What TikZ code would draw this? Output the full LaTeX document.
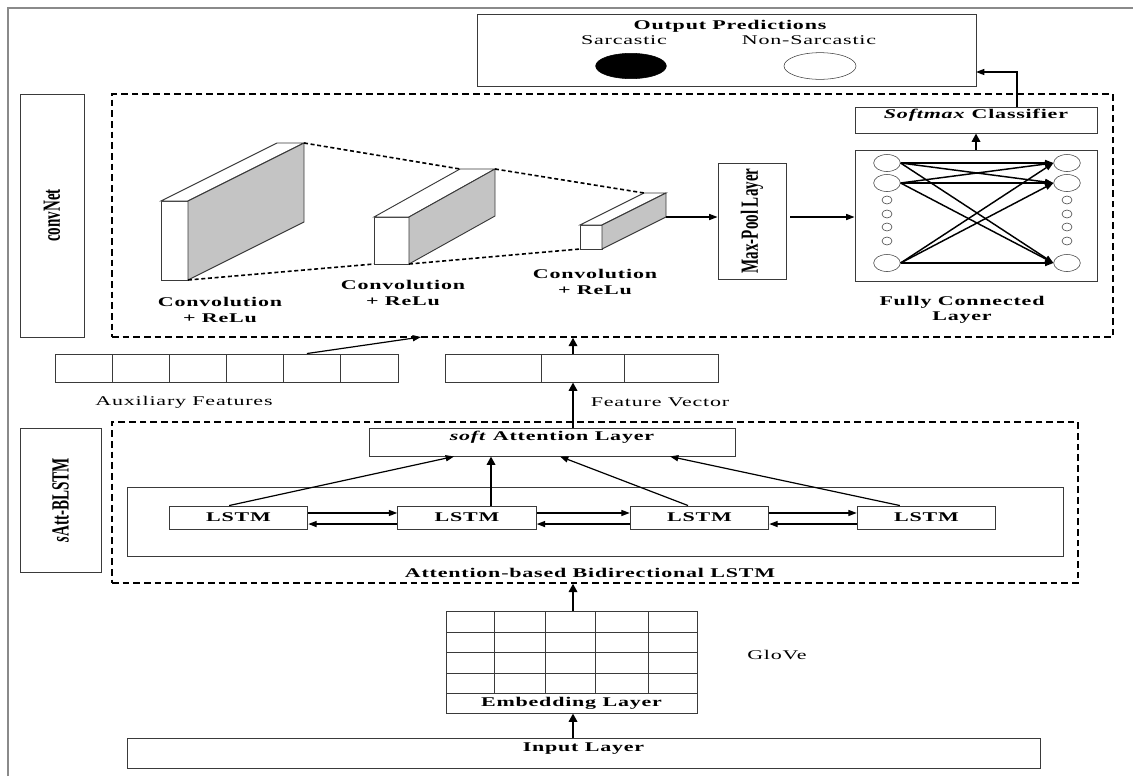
\documentclass[tikz,border=0pt]{standalone}
\usepackage{fontspec}
\setmainfont{Liberation Serif}[FakeStretch=1.65,LetterSpace=6]
\newfontfamily\tallfont{Liberation Serif}[FakeStretch=0.61]
\usepackage{xcolor}
\definecolor{sarcline}{HTML}{3A3A3A}
\definecolor{sarcframe}{HTML}{8A8A8A}
\definecolor{sarcshade}{HTML}{C4C4C4}
\usepackage{tikz}
\usetikzlibrary{arrows.meta,positioning,shapes.geometric,fit,calc}
\tikzset{
  sarcbox/.style={draw=sarcline,line width=0.7pt,inner sep=0pt,fit={#1}},
  sarcgroup/.style={draw,dash pattern=on 5pt off 3pt,line width=1pt,inner sep=0pt,fit={#1}},
  sarctitle/.style={font=\bfseries\fontsize{10}{11.5}\selectfont,inner sep=1pt,align=center},
  sarcnote/.style={font=\fontsize{10}{12}\selectfont,inner sep=1pt},
  sarcside/.style={font=\tallfont\bfseries\fontsize{18.5}{18.5}\selectfont,rotate=90,inner sep=0pt},
  sarcflow/.style={-{Triangle[length=2.2mm,width=1.6mm]},line width=0.9pt},
  sarcbold/.style={-{Triangle[length=2.2mm,width=2.2mm]},line width=2pt},
  sarccell/.style={draw=sarcline,line width=0.7pt,minimum width=42.9pt,minimum height=21pt,inner sep=0pt},
  sarclstm/.style={draw=sarcline,line width=0.7pt,minimum width=104pt,minimum height=17.25pt,inner sep=0pt,font=\bfseries},
  sarcbig/.style={draw=sarcline,ellipse,inner sep=0pt,minimum width=20pt,minimum height=12.75pt},
  sarcsmall/.style={draw=sarcline,ellipse,inner sep=0pt,minimum width=7.5pt,minimum height=6pt},
  sarcdots/.style={densely dashed,line width=1.2pt},
}
\begin{document}
\begin{tikzpicture}[x=0.75pt,y=-0.75pt]
\useasboundingbox (0,0) rectangle (1133,776);
\draw[sarcframe,line width=1.2pt] (8,776) |- (1133,8);
% output
\node[sarcbox={(477,14) (976,86)}] (out) {};
\node[sarctitle] (outtitle) at (730,26) {Output Predictions};
\node[sarcnote] (sarc) at (624,40) {Sarcastic};
\node[sarcnote] (nonsarc) at (809,40) {Non-Sarcastic};
\node[draw,ellipse,fill=black,minimum width=53pt,minimum height=19pt] (sarcdot) at (631,66) {};
\node[draw=sarcline,ellipse,minimum width=54pt,minimum height=20pt] (nonsarcdot) at (820,66) {};
% convNet
\node[sarcgroup={(112,94) (1113,337)}] (conv) {};
\node[sarcbox={(20,94) (84,337)}] (convtag) {};
\node[sarcside] (convname) at (convtag) {convNet};
\foreach \n/\xa/\ya/\xb/\yb/\dx/\dy in {1/161/201/188/280/116/58,2/374/217/409/264/86/48,3/580/225/602/249/64/32}{
  \filldraw[fill=white,draw=sarcline,line width=0.7pt] (\xa,\ya) rectangle (\xb,\yb);
  \filldraw[fill=white,draw=sarcline,line width=0.7pt] (\xa,\ya) -- (\xb,\ya) -- ({\xb+\dx},{\ya-\dy}) -- ({\xa+\dx},{\ya-\dy}) -- cycle;
  \filldraw[fill=sarcshade,draw=sarcline,line width=0.7pt] (\xb,\ya) -- ({\xb+\dx},{\ya-\dy}) -- ({\xb+\dx},{\yb-\dy}) -- (\xb,\yb) -- cycle;
  \coordinate (blk\n-tl) at ({\xa+\dx},{\ya-\dy});
  \coordinate (blk\n-tr) at ({\xb+\dx},{\ya-\dy});
  \coordinate (blk\n-bl) at (\xa,\yb);
  \coordinate (blk\n-br) at (\xb,\yb);
  \coordinate (blk\n-sr) at ({\xb+\dx},{\yb-\dy});
}
\draw[sarcdots] (blk1-tr) -- (blk2-tl);
\draw[sarcdots] (blk1-br) -- (blk2-bl);
\draw[sarcdots] (blk2-tr) -- (blk3-tl);
\draw[sarcdots] (blk2-br) -- (blk3-bl);
\node[sarctitle] (conv1lbl) at (220,310) {Convolution\\+ ReLu};
\node[sarctitle] (conv2lbl) at (403,293) {Convolution\\+ ReLu};
\node[sarctitle] (conv3lbl) at (595,282) {Convolution\\+ ReLu};
\node[sarcbox={(718,163) (786,279)}] (pool) {};
\node[sarcside] (poolname) at (pool) {Max-Pool Layer};
\node[sarcbox={(855,150) (1097,281)}] (fc) {};
\draw[sarcflow] (blk3-sr) -- (blk3-sr -| pool.west);
\draw[sarcflow] ([xshift=3pt]pool.east |- blk3-sr) -- (fc.west |- blk3-sr);
\foreach \i/\y in {1/163,2/183,3/263}{
  \node[sarcbig] (in\i) at (887,\y) {};
  \node[sarcbig] (on\i) at (1067,\y) {};
}
\foreach \y in {200,214,227,241}{
  \node[sarcsmall] (ins\y) at (887,\y) {};
  \node[sarcsmall] (ons\y) at (1067,\y) {};
}
\foreach \i in {1,2,3}
  \foreach \j in {1,2,3}
    \draw[sarcflow,line width=1.1pt] (in\i.east) -- (on\j.west);
\node[sarctitle] (fclbl) at (962,310) {Fully Connected\\Layer};
\node[sarcbox={(855,107) (1097,133)},font=\bfseries] (soft) {\textit{Softmax} Classifier};
\draw[sarcbold] (fc.north) -- (soft.south);
\coordinate (softout) at (1017,107);
\coordinate (outin) at (976,72);
\draw[sarcflow] (softout) |- (outin);
% features
\coordinate (spine) at (573,0);
\foreach \i in {1,...,6}
  \node[sarccell] (aux\i) at ({55+57.17*(\i-0.5)},368) {};
\node[sarcnote] (auxlbl) at (184,402) {Auxiliary Features};
\coordinate (convin) at (421,337);
\draw[sarcflow] ([xshift=-4pt]aux5.north) -- (convin);
\node[sarcbox={(445,354) (541,382)}] (fv1) {};
\node[sarcbox={(541,354) (624,382)}] (fv2) {};
\node[sarcbox={(624,354) (718,382)}] (fv3) {};
\node[sarcnote] (fvlbl) at (660,402) {Feature Vector};
\draw[sarcbold] (fv2.north -| spine) -- (conv.south -| spine);
% sAtt-BLSTM
\node[sarcgroup={(112,422) (1078,583)}] (satt) {};
\node[sarcbox={(20,428) (101,572)}] (satttag) {};
\node[sarcside] (sattname) at (satttag) {\textit{s}Att-BLSTM};
\node[sarcbox={(369,428) (735,456)},font=\bfseries] (att) {\textit{soft} Attention Layer};
\draw[sarcbold] (att.north -| spine) -- (fv2.south -| spine);
\node[sarcbox={(127,487) (1063,556)}] (bilstm) {};
\foreach \i/\x in {1/238.5,2/467,3/699.5,4/926.5}
  \node[sarclstm] (lstm\i) at (\x,517.5) {LSTM};
\foreach \i/\j in {1/2,2/3,3/4}{
  \draw[sarcflow] ([yshift=3.4pt]lstm\i.east) -- ([yshift=3.4pt]lstm\j.west);
  \draw[sarcflow] ([yshift=-4.9pt]lstm\j.west) -- ([yshift=-4.9pt]lstm\i.east);
}
\draw[sarcflow] ([xshift=-7pt]lstm1.north) -- ([xshift=-73.5pt]att.south);
\draw[sarcbold,line width=1.6pt] ([xshift=18pt]lstm2.north) -- ([xshift=-45.75pt]att.south);
\draw[sarcflow] ([xshift=-8.6pt]lstm3.north) -- ([xshift=6pt]att.south);
\draw[sarcflow] ([xshift=-20pt]lstm4.north) -- ([xshift=88.5pt]att.south);
\node[sarctitle] (bilstmlbl) at (590,573) {Attention-based Bidirectional LSTM};
% embedding and input
\node[sarcbox={(446,611) (697,713)}] (emb) {};
\foreach \y in {632,652,673,693}
  \draw[sarcline,line width=0.7pt] (446,\y) -- (697,\y);
\foreach \x in {494,545,595,648}
  \draw[sarcline,line width=0.7pt] (\x,611) -- (\x,693);
\node[font=\bfseries,inner sep=0pt] (emblbl) at (571.5,703) {Embedding Layer};
\node[sarcnote] (glove) at (777,655) {GloVe};
\draw[sarcbold] (emb.north -| spine) -- (satt.south -| spine);
\node[sarcbox={(127,738) (1040,768)},font=\bfseries] (input) {Input Layer};
\draw[sarcbold] (input.north -| spine) -- (emb.south -| spine);
\end{tikzpicture}
\end{document}
